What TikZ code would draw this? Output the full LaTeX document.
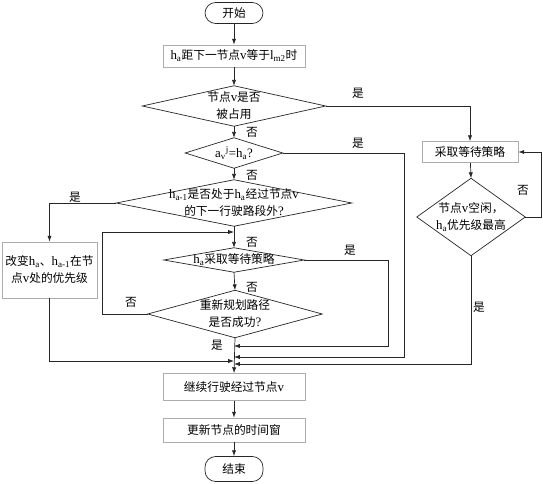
\documentclass[tikz,border=0pt]{standalone}
\usepackage{fontspec}
\setmainfont{Liberation Serif}
\newfontfamily\cjk{Noto Sans CJK SC}
\usepackage{tikz}
\usetikzlibrary{arrows.meta, calc}
\newcommand{\ltn}[1]{{\rmfamily\fontsize{11}{14.5}\selectfont #1}}

\begin{document}
\begin{tikzpicture}[
    x=0.03cm, y=-0.03cm,
    box/.style={rectangle, draw=gray!65, line width=0.6pt, inner sep=0pt, align=center, font=\cjk\fontsize{10}{14.5}\selectfont},
    term/.style={rectangle, draw=black!85, line width=0.6pt, rounded corners=0.32cm, inner sep=0pt, minimum width=1.74cm, font=\cjk\fontsize{10}{14.5}\selectfont},
    dia/.style={rectangle, inner sep=0pt, align=center, font=\cjk\fontsize{10}{14.5}\selectfont},
    lbl/.style={inner sep=1pt, font=\cjk\fontsize{10}{12}\selectfont},
    line/.style={draw=black!85, line width=0.6pt},
    arrow/.style={line, -{Latex[length=5pt,width=3.6pt]}},
]
\useasboundingbox (0,0) rectangle (543,483);

% main column
\node[term, minimum height=0.63cm] (start) at (234,13) {开始};
\node[box, minimum width=4.26cm, minimum height=0.66cm] (reach) at (234,56) {\ltn{h\textsubscript{a}}距下一节点\ltn{v}等于\ltn{l\textsubscript{m2}}时};
\node[dia, minimum width=5.49cm, minimum height=1.2cm] (occ) at (234,106) {节点\ltn{v}是否\\被占用};
\node[dia, minimum width=2.91cm, minimum height=0.9cm] (own) at (234,153) {\ltn{a\textsubscript{v}\textsuperscript{j}=h\textsubscript{a}?}};
\node[dia, minimum width=7.05cm, minimum height=1.38cm] (out) at (234,203) {\ltn{h\textsubscript{a-1}}是否处于\ltn{h\textsubscript{a}}经过节点\ltn{v}\\的下一行驶路段外\ltn{?}};
\node[dia, minimum width=4.2cm, minimum height=0.72cm] (hwait) at (234,260) {\ltn{h\textsubscript{a}}采取等待策略};
\node[dia, minimum width=5.22cm, minimum height=1.41cm] (plan) at (235,314) {重新规划路径\\是否成功\ltn{?}};
\node[box, minimum width=4.26cm, minimum height=0.81cm] (pass) at (234,387) {继续行驶经过节点\ltn{v}};
\node[box, minimum width=4.26cm, minimum height=0.72cm] (upd) at (234,430) {更新节点的时间窗};
\node[term, minimum height=0.75cm] (stop) at (234,469) {结束};

% side branches
\node[box, minimum width=2.85cm, minimum height=1.68cm] (prio) at (49.5,270) {改变\ltn{h\textsubscript{a}}、\ltn{h\textsubscript{a-1}}在节\\点\ltn{v}处的优先级};
\node[box, minimum width=2.88cm, minimum height=0.63cm] (wait) at (470,152) {采取等待策略};
\node[dia, minimum width=3.24cm, minimum height=2.31cm] (free) at (471,217) {节点\ltn{v}空闲，\\\ltn{h\textsubscript{a}}优先级最高};

\foreach \d in {occ, own, out, hwait, plan, free}
    \draw[line] (\d.north) -- (\d.east) -- (\d.south) -- (\d.west) -- cycle;

% merge points on the main column
\coordinate (back) at (234,232);
\coordinate (m1) at (234,346);
\coordinate (m2) at (234,357);
\coordinate (m0) at (234,361);
\coordinate (m3) at (234,364);

\draw[arrow] (start) -- (reach);
\draw[arrow] (reach) -- (occ.north);
\draw[arrow] (occ.south) -- (own.north);
\draw[arrow] (own.south) -- (out.north);
\draw[arrow] (out.south) -- (hwait.north);
\draw[arrow] (hwait.south) -- (plan.north);
\draw[arrow] (plan.south) -- (pass.north);
\draw[arrow] (pass) -- (upd);
\draw[arrow] (upd) -- (stop);

\draw[arrow] (occ.east) -| (wait.north);
\draw[arrow] (wait) -- (free.north);
\draw[arrow] (free.east) -- ++(16,0) |- (wait.east);
\draw[arrow] (free.south) |- (m3);
\draw[arrow] (own.east) -- ++(122,0) |- (m2);
\draw[arrow] (out.west) -| (prio.north);
\draw[arrow] (prio.south) |- (m0);
\draw[arrow] (hwait.east) -- ++(84,0) |- (m1);
\draw[arrow] (plan.west) -- ++(-45,0) |- (back);

% labels
\node[lbl] (y1) at (358,93) {是};
\node[lbl] (n1) at (252,132) {否};
\node[lbl] (y2) at (358,143) {是};
\node[lbl] (n2) at (252,175) {否};
\node[lbl] (y3) at (75,197) {是};
\node[lbl] (n3) at (252,242) {否};
\node[lbl] (y4) at (350,250) {是};
\node[lbl] (n4) at (252,287) {否};
\node[lbl] (n5) at (131,302) {否};
\node[lbl] (y5) at (217,345) {是};
\node[lbl] (n6) at (523,190) {否};
\node[lbl] (y6) at (479,307) {是};
\end{tikzpicture}
\end{document}
